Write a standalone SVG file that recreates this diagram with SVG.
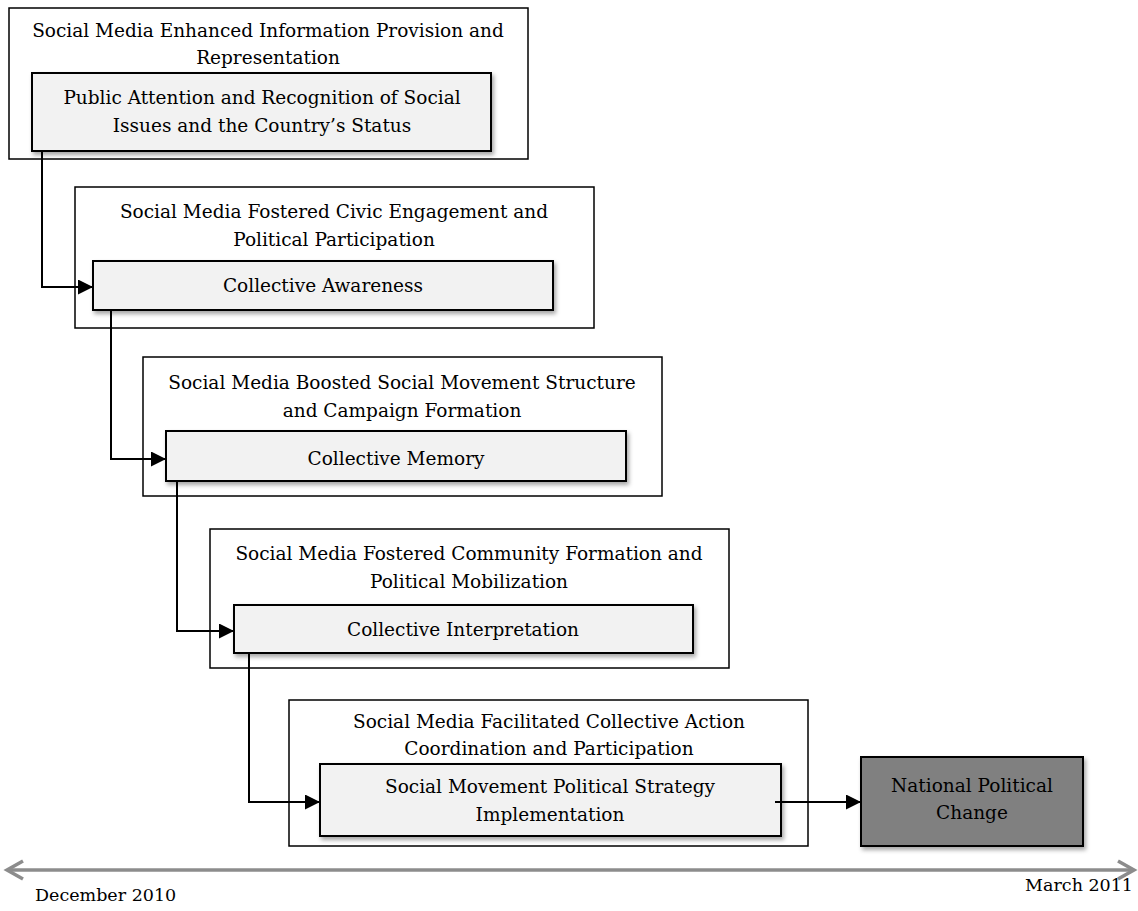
<svg xmlns="http://www.w3.org/2000/svg" width="1138" height="911" viewBox="0 0 1138 911">
<defs>
<style>
.outer{fill:#ffffff;stroke:#000;stroke-width:1.5}
.inner{fill:#f2f2f2;stroke:#000;stroke-width:2;filter:url(#sh)}
.final{fill:#808080;stroke:#000;stroke-width:2;filter:url(#sh)}
text{font-family:"DejaVu Serif","Liberation Serif",serif;font-size:18.5px;fill:#000;text-anchor:middle}
.lbl{font-size:17.5px}
.conn{fill:none;stroke:#000;stroke-width:2}
.tl{fill:none;stroke:#8c8c8c;stroke-width:3.5}
</style>
<filter id="sh" x="-5%" y="-10%" width="115%" height="130%">
<feDropShadow dx="2" dy="3" stdDeviation="2" flood-color="#000" flood-opacity="0.35"/>
</filter>
<marker id="ah" viewBox="0 0 10 10" refX="10" refY="5" markerWidth="7.5" markerHeight="7.5" markerUnits="strokeWidth" orient="auto">
<path d="M0,0 L10,5 L0,10 Z" fill="#000"/>
</marker>
</defs>
<rect width="1138" height="911" fill="#fff"/>

<g id="stage1">
<rect class="outer" x="9" y="8" width="519" height="151"/>
<text x="268" y="37">Social Media Enhanced Information Provision and</text>
<text x="268" y="64">Representation</text>
<rect class="inner" x="32" y="73" width="459" height="78"/>
<text x="262" y="104">Public Attention and Recognition of Social</text>
<text x="262" y="132">Issues and the Country’s Status</text>
</g>

<g id="stage2">
<rect class="outer" x="75" y="187" width="519" height="141"/>
<text x="334" y="218">Social Media Fostered Civic Engagement and</text>
<text x="334" y="246">Political Participation</text>
<rect class="inner" x="93" y="261" width="460" height="49"/>
<text x="323" y="292">Collective Awareness</text>
</g>

<g id="stage3">
<rect class="outer" x="143" y="357" width="519" height="139"/>
<text x="402" y="389">Social Media Boosted Social Movement Structure</text>
<text x="402" y="417">and Campaign Formation</text>
<rect class="inner" x="166" y="431" width="460" height="50"/>
<text x="396" y="465">Collective Memory</text>
</g>

<g id="stage4">
<rect class="outer" x="210" y="529" width="519" height="139"/>
<text x="469" y="560">Social Media Fostered Community Formation and</text>
<text x="469" y="588">Political Mobilization</text>
<rect class="inner" x="234" y="605" width="459" height="48"/>
<text x="463" y="636">Collective Interpretation</text>
</g>

<g id="stage5">
<rect class="outer" x="289" y="700" width="519" height="146"/>
<text x="549" y="728">Social Media Facilitated Collective Action</text>
<text x="549" y="755">Coordination and Participation</text>
<rect class="inner" x="320" y="764" width="461" height="72"/>
<text x="550" y="793">Social Movement Political Strategy</text>
<text x="550" y="821">Implementation</text>
</g>

<g id="outcome">
<rect class="final" x="861" y="757" width="222" height="89"/>
<text x="972" y="792">National Political</text>
<text x="972" y="819">Change</text>
</g>

<g id="connectors">
<path class="conn" d="M42,152 V287 H93" marker-end="url(#ah)"/>
<path class="conn" d="M111,311 V459 H166" marker-end="url(#ah)"/>
<path class="conn" d="M177,482 V631 H234" marker-end="url(#ah)"/>
<path class="conn" d="M249,654 V802 H320" marker-end="url(#ah)"/>
<path class="conn" d="M775,802 H861" marker-end="url(#ah)"/>
</g>

<g id="timeline">
<path class="tl" d="M7,870 H1134"/>
<path class="tl" d="M23,861 L7,870 L23,879"/>
<path class="tl" d="M1118,861 L1134,870 L1118,879"/>
<text class="lbl" x="35" y="901" style="text-anchor:start">December 2010</text>
<text class="lbl" x="1133" y="891" style="text-anchor:end">March 2011</text>
</g>
</svg>
